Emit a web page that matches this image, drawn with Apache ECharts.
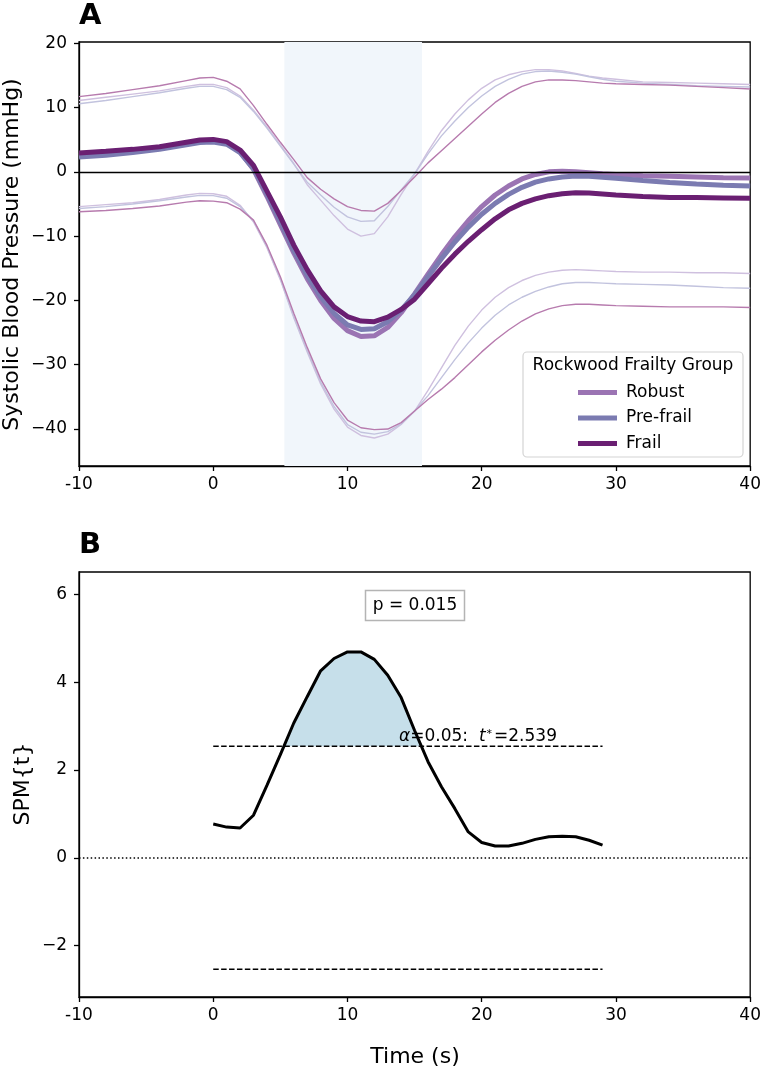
<!DOCTYPE html>
<html><head><meta charset="utf-8">
<script src="https://cdn.jsdelivr.net/npm/echarts@6/dist/echarts.min.js"></script>
<style>html,body{margin:0;padding:0;background:#fff}#c{width:764px;height:1074px}</style>
</head><body><div id="c"></div>
<script>
const FONT = 'DejaVu Sans';

// ---------- Panel A data ----------
const timeA = [-10,-8,-6,-4,-2,-1,0,1,2,3,4,5,6,7,8,9,10,11,12,13,14,15,16,17,18,19,20,21,22,23,24,25,26,27,28,29,30,32,34,36,38,40];
const groupNames = ['Robust','Pre-frail','Frail'];
const robustMean = [2.6,2.9,3.2,3.7,4.4,4.75, 4.85,4.5,3.1,0.4,-3.8,-8.2,-12.6,-16.6,-20.0,-22.8,-24.7,-25.6,-25.5,-24.2,-21.9,-19.0,-15.9,-12.9,-10.1,-7.6,-5.4,-3.6,-2.2,-1.1,-0.4,0.0,0.1,0.0,-0.15,-0.3,-0.4, -0.6,-0.7,-0.8,-0.9,-0.95];
const preFrailMean = [2.3,2.6,3.0,3.5,4.2,4.55, 4.65,4.3,3.0,0.5,-3.5,-7.8,-12.2,-16.1,-19.4,-22.0,-23.8,-24.5,-24.4,-23.3,-21.5,-19.1,-16.3,-13.5,-10.9,-8.6,-6.6,-4.9,-3.5,-2.4,-1.6,-1.1,-0.8,-0.65,-0.7,-0.85,-1.0, -1.35,-1.65,-1.9,-2.1,-2.2];
const frailMean = [2.95,3.2,3.5,3.9,4.6,4.95, 5.05,4.7,3.4,1.0,-3.0,-7.0,-11.4,-15.2,-18.5,-21.0,-22.5,-23.2,-23.3,-22.6,-21.4,-19.8,-17.4,-15.0,-12.8,-10.8,-9.0,-7.3,-5.9,-4.9,-4.2,-3.7,-3.4,-3.25,-3.3,-3.45,-3.6, -3.85,-4.0,-4.0,-4.05,-4.1];
const robustUpper = [11.1,11.6,12.1,12.6,13.3,13.6, 13.6,13.1,11.8,9.6,7.0,4.2,1.3,-2.0,-4.4,-6.8,-8.9,-10.0,-9.6,-7.0,-3.5,-0.3,3.2,6.4,9.0,11.2,13.0,14.3,15.1,15.6,15.9,15.9,15.7,15.3,14.9,14.6,14.4, 14.0,13.9,13.8,13.7,13.6];
const preFrailUpper = [10.6,11.1,11.7,12.3,13.0,13.3, 13.3,12.8,11.6,9.4,6.8,4.0,1.2,-1.6,-3.6,-5.5,-7.0,-7.7,-7.6,-5.4,-2.8,-0.3,2.8,5.6,7.9,10.0,11.8,13.3,14.4,15.2,15.6,15.7,15.5,15.2,14.8,14.4,14.1, 13.8,13.6,13.4,13.3,13.2];
const frailUpper = [11.7,12.2,12.8,13.4,14.2,14.6, 14.7,14.1,12.9,10.3,7.4,4.6,1.9,-0.9,-2.7,-4.2,-5.4,-6.0,-6.1,-4.9,-2.9,-0.8,1.4,3.3,5.2,7.1,9.0,10.8,12.2,13.3,14.0,14.3,14.3,14.2,14.0,13.8,13.7, 13.6,13.5,13.3,13.1,12.9];
const robustLower = [-5.4,-5.1,-4.8,-4.3,-3.6,-3.35, -3.4,-3.8,-5.2,-7.8,-11.8,-16.8,-22.7,-28.0,-33.0,-36.9,-39.7,-41.0,-41.4,-40.8,-39.3,-37.2,-34.0,-30.5,-27.0,-24.0,-21.5,-19.5,-18.0,-16.9,-16.1,-15.6,-15.3,-15.2,-15.3,-15.4,-15.5, -15.6,-15.6,-15.7,-15.7,-15.8];
const preFrailLower = [-5.7,-5.4,-5.0,-4.5,-3.9,-3.65, -3.7,-4.1,-5.4,-7.6,-11.6,-16.6,-22.5,-27.8,-32.7,-36.5,-39.3,-40.5,-40.8,-40.4,-39.2,-37.2,-34.8,-32.0,-29.2,-26.6,-24.3,-22.3,-20.7,-19.5,-18.6,-17.9,-17.4,-17.2,-17.2,-17.3,-17.4, -17.5,-17.6,-17.8,-18.0,-18.1];
const frailLower = [-6.2,-6.0,-5.7,-5.3,-4.7,-4.5, -4.55,-4.8,-5.8,-7.5,-11.4,-16.3,-22.0,-27.3,-32.2,-35.9,-38.6,-39.8,-40.1,-40.0,-39.0,-37.2,-35.4,-33.8,-32.0,-30.0,-28.0,-26.2,-24.6,-23.2,-22.1,-21.3,-20.8,-20.6,-20.6,-20.7,-20.8, -20.9,-21.0,-21.0,-21.0,-21.1];
const shadeRange = [5.3, 15.55];
const xTicks = [-10,0,10,20,30,40];
const yTicksA = [-40,-30,-20,-10,0,10,20];

// ---------- Panel B data ----------
const timeB = [0,1,2,3,4,5,6,7,8,9,10,11,12,13,14,15,16,17,18,19,20,21,22,23,24,25,26,27,28,29];
const spmT = [0.77,0.70,0.68,0.97,1.65,2.35,3.07,3.67,4.26,4.54,4.69,4.69,4.52,4.16,3.65,2.90,2.19,1.62,1.12,0.59,0.35,0.27,0.27,0.33,0.42,0.48,0.49,0.48,0.40,0.29];
const tCrit = 2.539;
const yTicksB = [-2,0,2,4,6];

// ---------- styling ----------
const colMean = {'Robust':'#9b74b3','Pre-frail':'#7b7bb1','Frail':'#6a1f72'};
const colCI = {'Robust':'#cfc0df','Pre-frail':'#c2c3de','Frail':'#b77bae'};

const pair = (xs, ys) => xs.map((x,i)=>[x, ys[i]]);
const minus = v => String(v).replace('-', '\u2212');

function aboveClusters(ts, vs, thr){
  const clusters = []; let cur = null;
  for (let i=0;i<ts.length;i++){
    if (i>0){
      const a = vs[i-1]-thr, b = vs[i]-thr;
      if ((a<0 && b>0) || (a>0 && b<0)){
        const tc = ts[i-1] + (ts[i]-ts[i-1])*a/(a-b);
        if (b>0){ cur = [[tc,thr]]; }
        else if (cur){ cur.push([tc,thr]); clusters.push(cur); cur=null; }
      }
    }
    if (vs[i]>=thr){ if(!cur) cur=[]; cur.push([ts[i],vs[i]]); }
  }
  if (cur) clusters.push(cur);
  return clusters;
}

const axisLineStyle = {color:'#000', width:1.3};
function xAxisCfg(gi){
  return {gridIndex:gi, type:'value', min:-10, max:40, interval:10,
    axisLine:{onZero:false, lineStyle:axisLineStyle},
    axisTick:{length:5, lineStyle:axisLineStyle, customValues:xTicks},
    axisLabel:{fontSize:17, fontFamily:FONT, color:'#000', margin:10, customValues:xTicks, formatter:v=>String(v)},
    splitLine:{show:false}};
}
function yAxisCfg(gi, mn, mx, ticks, fmt){
  return {gridIndex:gi, type:'value', min:mn, max:mx,
    axisLine:{onZero:false, lineStyle:axisLineStyle},
    axisTick:{length:5, lineStyle:axisLineStyle, customValues:ticks},
    axisLabel:{fontSize:17, fontFamily:FONT, color:'#000', margin:12, customValues:ticks, formatter:fmt},
    splitLine:{show:false}};
}

const series = [];
series.push({type:'line', xAxisIndex:0, yAxisIndex:0, data:[], silent:true, z:1,
  markArea:{silent:true, itemStyle:{color:'#f1f6fb'}, data:[[{xAxis:shadeRange[0]},{xAxis:shadeRange[1]}]]},
  markLine:{silent:true, symbol:'none', label:{show:false}, lineStyle:{color:'#000', width:1.3, type:'solid'}, data:[{yAxis:0}]}
});
const ciSets = [['Robust',robustUpper,robustLower],['Pre-frail',preFrailUpper,preFrailLower],['Frail',frailUpper,frailLower]];
ciSets.forEach(([g,up,lo])=>{
  [up,lo].forEach((arr,k)=>{
    series.push({name:g+(k?' lower':' upper'), type:'line', xAxisIndex:0, yAxisIndex:0, data:pair(timeA,arr),
      showSymbol:false, symbol:'none', silent:true, z:3,
      lineStyle:{color:colCI[g], width:1.4}, itemStyle:{color:colCI[g]}});
  });
});
const means = {'Robust':robustMean,'Pre-frail':preFrailMean,'Frail':frailMean};
groupNames.forEach(g=>{
  series.push({name:g, type:'line', xAxisIndex:0, yAxisIndex:0, data:pair(timeA,means[g]),
    showSymbol:false, symbol:'none', silent:true, z:4,
    lineStyle:{color:colMean[g], width:5}, itemStyle:{color:colMean[g]}});
});

aboveClusters(timeB, spmT, tCrit).forEach((cl,i)=>{
  series.push({name:'supra'+i, type:'line', xAxisIndex:1, yAxisIndex:1, data:cl, showSymbol:false, symbol:'none',
    silent:true, z:2, lineStyle:{width:0}, areaStyle:{origin:tCrit, color:'#c6dfea', opacity:1}});
});
const tFirst = timeB[0], tLast = timeB[timeB.length-1];
[tCrit, -tCrit].forEach((thr,i)=>{
  series.push({name:'thr'+i, type:'line', xAxisIndex:1, yAxisIndex:1, data:[[tFirst,thr],[tLast,thr]],
    showSymbol:false, symbol:'none', silent:true, z:3, lineStyle:{color:'#000', width:1.5, type:[5.5,2.4]}});
});
series.push({name:'SPM', type:'line', xAxisIndex:1, yAxisIndex:1, data:pair(timeB,spmT), showSymbol:false, symbol:'none',
  silent:true, z:4, lineStyle:{color:'#000', width:3}, itemStyle:{color:'#000'},
  markLine:{silent:true, symbol:'none', label:{show:false}, lineStyle:{color:'#000', width:1.5, type:[1.5,2.4]}, data:[{yAxis:0}]}
});

const graphics = [
  {type:'text', left:79, top:2, style:{text:'A', fontSize:29, fontWeight:'bold', fontFamily:FONT, fill:'#000'}},
  {type:'text', left:79, top:531, style:{text:'B', fontSize:29, fontWeight:'bold', fontFamily:FONT, fill:'#000'}},
  {type:'text', x:12.5, y:254.5, rotation:Math.PI/2, style:{text:'Systolic Blood Pressure (mmHg)', fontSize:22, fontFamily:FONT, fill:'#000', align:'center', verticalAlign:'middle'}},
  {type:'text', x:23, y:784, rotation:Math.PI/2, style:{text:'SPM{t}', fontSize:22, fontFamily:FONT, fill:'#000', align:'center', verticalAlign:'middle'}},
  {type:'text', x:415, y:1057, style:{text:'Time (s)', fontSize:22, fontFamily:FONT, fill:'#000', align:'center', verticalAlign:'middle'}},
  {type:'rect', shape:{x:523, y:352, width:220, height:105, r:4}, style:{fill:'rgba(255,255,255,0.85)', stroke:'#d4d4d4', lineWidth:1.2}, z:10},
  {type:'text', x:633, y:366, z:11, style:{text:'Rockwood Frailty Group', fontSize:17, fontFamily:FONT, fill:'#000', align:'center', verticalAlign:'middle'}},
  {type:'rect', shape:{x:365.5, y:590.5, width:99, height:30}, style:{fill:'#fff', stroke:'#b4b4b4', lineWidth:1.5}, z:10},
  {type:'text', x:415, y:605.5, z:11, style:{text:'p = 0.015', fontSize:17, fontFamily:FONT, fill:'#000', align:'center', verticalAlign:'middle'}},
  {type:'text', x:478, y:737, z:11, style:{text:'{i|\u03b1}=0.05:  {i|t}{s|*}=2.539', fontSize:17, fontFamily:FONT, fill:'#000', align:'center', verticalAlign:'middle',
    rich:{i:{fontStyle:'italic', fontSize:17, fontFamily:FONT, fill:'#000'}, s:{fontSize:11, fontFamily:FONT, verticalAlign:'top', padding:[0,2,0,1], fill:'#000'}}}}
];

const chart = echarts.init(document.getElementById('c'), null, {renderer:'canvas', width:764, height:1074});
chart.setOption({
  animation:false,
  backgroundColor:'#fff',
  textStyle:{fontFamily:FONT},
  grid:[
    {left:79, top:42, width:673.5, height:424, show:true, borderColor:'#000', borderWidth:1.3, backgroundColor:'transparent'},
    {left:79, top:572, width:673.5, height:425, show:true, borderColor:'#000', borderWidth:1.3, backgroundColor:'transparent'}
  ],
  xAxis:[xAxisCfg(0), xAxisCfg(1)],
  yAxis:[
    yAxisCfg(0, -45.75, 20.2, yTicksA, v=>minus(v)),
    yAxisCfg(1, -3.17, 6.51, yTicksB, v=>minus(v))
  ],
  legend:{data:groupNames, orient:'vertical', left:573, top:379, itemWidth:39, itemHeight:5, icon:'rect', itemGap:8.5,
    selectedMode:false, z:12,
    textStyle:{fontSize:17, fontFamily:FONT, color:'#000', padding:[0,0,0,4]}},
  graphic:graphics,
  series:series
});
</script></body></html>
